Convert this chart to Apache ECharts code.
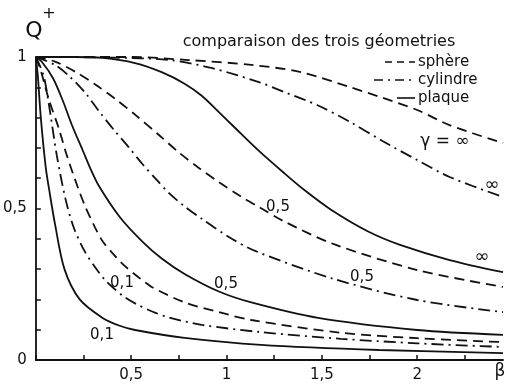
<!DOCTYPE html>
<html>
<head>
<meta charset="utf-8">
<script src="https://cdn.jsdelivr.net/npm/echarts@6/dist/echarts.min.js"></script>
<style>
  html, body { margin: 0; padding: 0; background: #fff; }
  #chart { width: 507px; height: 391px; }
</style>
</head>
<body>
<div id="chart"></div>
<script>
// data: [beta, Q+]
var sphereInf = [[0,1],[0.5,1],[0.8,0.99],[1.13,0.974],[1.39,0.95],[1.65,0.9],[1.82,0.865],[2.0,0.825],[2.17,0.775],[2.45,0.716]];
var cylInf = [[0,1],[0.4,0.998],[0.7,0.99],[0.92,0.964],[1.17,0.917],[1.3,0.885],[1.48,0.84],[1.65,0.785],[1.82,0.722],[2.0,0.66],[2.17,0.604],[2.45,0.538]];
var plaqueInf = [[0,1],[0.2,1],[0.35,0.997],[0.52,0.98],[0.66,0.95],[0.78,0.912],[0.87,0.872],[0.96,0.818],[1.04,0.769],[1.17,0.69],[1.3,0.618],[1.41,0.56],[1.55,0.495],[1.74,0.425],[1.91,0.38],[2.17,0.33],[2.45,0.29]];

var sphere05 = [[0,1],[0.1,0.985],[0.21,0.95],[0.31,0.91],[0.42,0.86],[0.52,0.81],[0.65,0.74],[0.75,0.685],[0.85,0.636],[0.96,0.587],[1.08,0.538],[1.17,0.505],[1.3,0.458],[1.56,0.383],[2.0,0.297],[2.45,0.241]];
var cyl05 = [[0,1],[0.1,0.974],[0.18,0.934],[0.26,0.881],[0.33,0.822],[0.41,0.759],[0.49,0.7],[0.56,0.646],[0.64,0.59],[0.7,0.55],[0.78,0.507],[0.87,0.466],[1.01,0.407],[1.15,0.36],[1.56,0.268],[2.0,0.198],[2.45,0.158]];
var plaque05 = [[0,1],[0.03,0.985],[0.09,0.93],[0.14,0.858],[0.19,0.774],[0.245,0.693],[0.286,0.632],[0.33,0.575],[0.44,0.472],[0.56,0.39],[0.66,0.335],[0.78,0.284],[0.96,0.226],[1.13,0.19],[1.48,0.139],[2.0,0.099],[2.45,0.083]];

var sphere01 = [[0,1],[0.026,0.955],[0.068,0.86],[0.12,0.765],[0.16,0.68],[0.22,0.57],[0.26,0.505],[0.31,0.438],[0.35,0.392],[0.41,0.347],[0.46,0.314],[0.52,0.282],[0.57,0.258],[0.61,0.24],[0.78,0.19],[0.96,0.158],[1.13,0.132],[1.6,0.09],[2.0,0.072],[2.45,0.059]];
var cyl01 = [[0,1],[0.04,0.94],[0.068,0.845],[0.11,0.675],[0.156,0.53],[0.2,0.435],[0.255,0.36],[0.31,0.307],[0.36,0.266],[0.41,0.236],[0.46,0.21],[0.52,0.187],[0.61,0.16],[0.7,0.14],[0.87,0.116],[1.18,0.092],[1.6,0.07],[2.0,0.055],[2.45,0.043]];
var plaque01 = [[0,1],[0.01,0.94],[0.026,0.8],[0.052,0.635],[0.073,0.55],[0.1,0.45],[0.15,0.3],[0.23,0.2],[0.35,0.139],[0.44,0.113],[0.52,0.099],[0.78,0.073],[1.18,0.05],[1.8,0.033],[2.45,0.023]];

var xLabelValues = [0.5, 1, 1.5, 2];
var yLabelValues = [0, 0.5, 1];

var ink = '#111';
var font = "'DejaVu Sans', sans-serif";
var dashSphere = [10, 6];
var dashCyl = [12, 5, 2, 5];

function lbl(list) {
  return function (v) {
    for (var i = 0; i < list.length; i++) {
      if (Math.abs(list[i] - v) < 1e-6) return String(list[i]).replace('.', ',');
    }
    return '';
  };
}

function curve(name, data, dash) {
  return {
    name: name, type: 'line', data: data, smooth: 0.3,
    showSymbol: false, silent: true,
    lineStyle: { color: ink, width: 1.8, type: dash }
  };
}

function txt(x, y, s, size, align) {
  return {
    type: 'text', x: x, y: y, silent: true,
    style: { text: s, fill: ink, font: size + 'px ' + font, align: align || 'center', verticalAlign: 'middle' }
  };
}

function seg(x1, x2, y, dash) {
  return {
    type: 'line', silent: true,
    shape: { x1: x1, y1: y, x2: x2, y2: y },
    style: { stroke: ink, lineWidth: 1.6, lineDash: dash }
  };
}

var chart = echarts.init(document.getElementById('chart'));

var option = {
  backgroundColor: '#fff',
  animation: false,
  grid: { left: 33, right: 4, top: 57, bottom: 31 },
  xAxis: {
    type: 'value', min: 0, max: 2.45, interval: 0.25,
    axisLine: { lineStyle: { color: ink, width: 1.8 } },
    axisTick: { inside: true, length: 5, lineStyle: { color: ink, width: 1.5 } },
    axisLabel: { formatter: lbl(xLabelValues), color: ink, fontSize: 15, fontFamily: font, margin: 8, showMaxLabel: false },
    splitLine: { show: false }
  },
  yAxis: {
    type: 'value', min: 0, max: 1, interval: 0.1,
    axisLine: { show: true, lineStyle: { color: ink, width: 1.8 } },
    axisTick: { show: true, inside: true, length: 5, lineStyle: { color: ink, width: 1.5 } },
    axisLabel: { formatter: lbl(yLabelValues), color: ink, fontSize: 15, fontFamily: font, margin: 9 },
    splitLine: { show: false }
  },
  series: [
    curve('sphère ∞', sphereInf, dashSphere),
    curve('cylindre ∞', cylInf, dashCyl),
    curve('plaque ∞', plaqueInf, 'solid'),
    curve('sphère 0,5', sphere05, dashSphere),
    curve('cylindre 0,5', cyl05, dashCyl),
    curve('plaque 0,5', plaque05, 'solid'),
    curve('sphère 0,1', sphere01, dashSphere),
    curve('cylindre 0,1', cyl01, dashCyl),
    curve('plaque 0,1', plaque01, 'solid')
  ],
  graphic: [
    txt(34, 31, 'Q', 22),
    txt(49, 14, '+', 16),
    txt(319, 42, 'comparaison des trois géometries', 16),
    seg(385, 415, 62, [7, 5]),
    txt(418, 62, 'sphère', 15, 'left'),
    seg(374, 413, 80, [9, 5, 2, 5]),
    txt(418, 80, 'cylindre', 15, 'left'),
    seg(397, 415, 98, null),
    txt(418, 98, 'plaque', 15, 'left'),
    txt(445, 142, 'γ = ∞', 17),
    txt(492, 185, '∞', 18),
    txt(482, 257, '∞', 18),
    txt(278, 207, '0,5', 15),
    txt(362, 277, '0,5', 15),
    txt(226, 284, '0,5', 15),
    txt(122, 283, '0,1', 15),
    txt(102, 335, '0,1', 15),
    txt(500, 372, 'β', 17)
  ]
};

chart.setOption(option);
</script>
</body>
</html>
